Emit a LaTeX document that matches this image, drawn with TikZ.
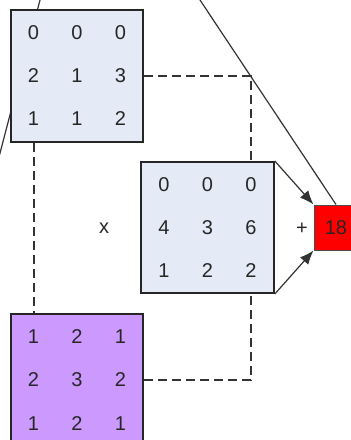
\documentclass[tikz,border=0pt]{standalone}
\usepackage{fontspec}
\setmainfont{Liberation Sans}
\usetikzlibrary{matrix,arrows.meta}
\definecolor{cellblue}{HTML}{E4EBF6}
\definecolor{cellpurple}{HTML}{CC99FF}
\definecolor{ink}{HTML}{262626}

\begin{document}
\begin{tikzpicture}[x=1pt,y=-1pt,
    every node/.style={text=ink,font=\fontsize{20}{22}\selectfont},
    mat/.style={matrix of nodes,draw=black!85,line width=2pt,inner sep=1pt,
        nodes={minimum width=43.5pt,minimum height=43pt,inner sep=0pt}},
    link/.style={draw=black!80,line width=2pt,dash pattern=on 9pt off 5pt},
    feed/.style={draw=black!80,line width=1.2pt,-{Latex[length=14pt,width=11pt]}}]
    \useasboundingbox (0,0) rectangle (351,440);
    \clip (0,0) rectangle (351,440);

    \coordinate (inL) at (41.6,-6);
    \coordinate (outL) at (-1.8,160);
    \coordinate (inR) at (196,-6);

    \draw[black!80,line width=1.2pt] (inL) -- (outL);

    \matrix (matA) [mat,fill=cellblue] at (77,76) {
        0 & 0 & 0 \\
        2 & 1 & 3 \\
        1 & 1 & 2 \\
    };
    \matrix (matB) [mat,fill=cellblue] at (207.5,227.5) {
        0 & 0 & 0 \\
        4 & 3 & 6 \\
        1 & 2 & 2 \\
    };
    \matrix (matC) [mat,fill=cellpurple] at (77,380) {
        1 & 2 & 1 \\
        2 & 3 & 2 \\
        1 & 2 & 1 \\
    };
    \node (res) [draw=black!70,line width=1pt,fill=red,minimum width=44pt,minimum height=45pt] at (336,227.5) {18};
    \node (times) at (104,228) {x};
    \node (plus) at (302,229) {+};

    \draw[black!80,line width=1.2pt] (inR) -- (res.north);
    \draw[link] (matA.east |- matA-2-3) -| (matB-1-3 |- matB.north);
    \draw[link] (matC.east |- matC-2-3) -| (matB-3-3 |- matB.south);
    \draw[link] (matA-3-1 |- matA.south) -- (matC-1-1 |- matC.north);
    \draw[feed] (matB.north east) -- (res.north west);
    \draw[feed] (matB.south east) -- (res.south west);
\end{tikzpicture}
\end{document}
